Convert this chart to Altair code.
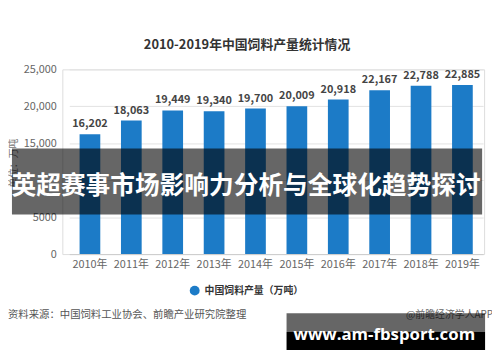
import altair as alt
import pandas as pd

years = ["2010年", "2011年", "2012年", "2013年", "2014年", "2015年", "2016年", "2017年", "2018年", "2019年"]
values = [16202, 18063, 19449, 19340, 19700, 20009, 20918, 22167, 22788, 22885]
y_ticks = [0, 5000, 10000, 15000, 20000, 25000]

title_text = "2010-2019年中国饲料产量统计情况"
y_title = "单位：万吨"
legend_label = "中国饲料产量（万吨）"
source_text = "资料来源：中国饲料工业协会、前瞻产业研究院整理"
credit_text = "@前瞻经济学人APP"
banner_text = "英超赛事市场影响力分析与全球化趋势探讨"
watermark_text = "www.am-fbsport.com"

BAR = "#1c7bc7"
FONT = "Noto Sans CJK SC"

df = pd.DataFrame({"year": years, "value": values})

x = alt.X(
    "year:N", sort=None,
    scale=alt.Scale(range=[7, 426], paddingInner=0.5, paddingOuter=0.25),
    axis=alt.Axis(title=None, labelAngle=0, labelColor="#666", labelFontSize=11,
                  labelPadding=5, ticks=False, domainColor="#cccccc", grid=False,
                  labelFont=FONT),
)
y = alt.Y(
    "value:Q",
    scale=alt.Scale(domain=[0, 25000], nice=False),
    axis=alt.Axis(values=y_ticks, title=None, grid=True, gridColor="#e3e3e3",
                  domain=False, ticks=False, labelPadding=6, labelColor="#666",
                  labelFontSize=11, labelFont=FONT,
                  labelExpr="datum.value == 10000 ? '' : (datum.value > 10000 ? format(datum.value, ',') : format(datum.value, 'd'))"),
)

base = alt.Chart(df)
bars = base.mark_bar(color=BAR).encode(x=x, y=y)
labels = base.mark_text(dy=-5, baseline="bottom", fontWeight="bold", fontSize=11,
                        color="#444", font=FONT).encode(
    x=x, y=y, text=alt.Text("value:Q", format=","))


def txt(s, xv, yv, **kw):
    return alt.Chart(pd.DataFrame({"t": [s]})).mark_text(**kw).encode(
        x=alt.value(xv), y=alt.value(yv), text="t:N")


def box(x1, x2, y1, y2, **kw):
    return alt.Chart(pd.DataFrame({"a": [0]})).mark_rect(**kw).encode(
        x=alt.value(x1), x2=alt.value(x2), y=alt.value(y1), y2=alt.value(y2))


title = txt(title_text, 187, -25, fontSize=13, fontWeight="bold", color="#333", font=FONT)
ytitle = txt(y_title, -49, 95, angle=270, fontSize=10, color="#777", font=FONT)
legend_dot = alt.Chart(pd.DataFrame({"a": [0]})).mark_circle(size=100, color=BAR, opacity=1).encode(
    x=alt.value(134), y=alt.value(224))
legend_txt = txt(legend_label, 144, 224, align="left", fontSize=10, fontWeight="bold",
                 color="#333", font=FONT)
source = txt(source_text, -55, 249, align="left", fontSize=10.5, color="#555", font=FONT)
credit = txt(credit_text, 436, 249, align="right", fontSize=10, color="#666", font=FONT)

banner = box(-51, 425, 80, 147, color="black", opacity=0.6)
banner_t = txt(banner_text, 186, 118, fontSize=25, fontWeight="bold", color="white", font=FONT)

wm_top = box(227, 428, 247, 266, color="black", opacity=0.6)
wm_bot = box(227, 428, 266, 284, color="black", opacity=1)
wm_t = txt(watermark_text, 326, 269, fontSize=17, fontWeight="bold", color="white", font="Open Sans")

chart = alt.layer(
    bars, labels, title, ytitle, legend_dot, legend_txt, source, credit,
    banner, banner_t, wm_top, wm_bot, wm_t,
).properties(
    width=427, height=187,
    autosize=alt.AutoSizeParams(type="none"),
    padding={"left": 55, "top": 60, "right": 8, "bottom": 97},
).configure_view(stroke=None).configure(background="white")

chart.save("out.html", embed_options={"renderer": "svg", "actions": False})
